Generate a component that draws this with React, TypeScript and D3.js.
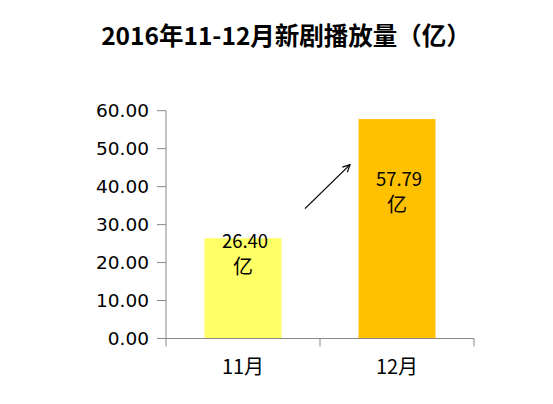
import React from "react";
import * as d3 from "d3";

const months = ["11月", "12月"];
const plays = [26.4, 57.79];
const barColors = ["#FFFF66", "#FFC000"];
const yTicks = [0, 10, 20, 30, 40, 50, 60];
const title = "2016年11-12月新剧播放量（亿）";
const unit = "亿";

const W = 553;
const H = 404;
const left = 166;
const right = 474;
const top = 110.7;
const bottom = 338.5;

export default function App() {
  const x = d3
    .scaleBand<string>()
    .domain(months)
    .range([left, right])
    .paddingInner(0.5)
    .paddingOuter(0.25);
  const y = d3.scaleLinear().domain([0, 60]).range([bottom, top]);
  const fmt = d3.format(".2f");
  const font = "'Noto Sans CJK SC', 'DejaVu Sans', sans-serif";

  // arrow between the two bars, from the first bar's top region toward the second
  const x0 = (x(months[0]) as number) + x.bandwidth() + 23.5;
  const x1 = (x(months[1]) as number) - 8.5;
  const ay0 = y(34.2);
  const ay1 = y(45.8);

  return (
    <svg
      width={W}
      height={H}
      style={{ position: "absolute", left: 0, top: 0, background: "#fff" }}
      fontFamily={font}
    >
      <defs>
        <marker
          id="head"
          viewBox="0 0 10 10"
          refX="9"
          refY="5"
          markerWidth="9"
          markerHeight="9"
          orient="auto"
          markerUnits="userSpaceOnUse"
        >
          <path d="M1,1 L9,5 L1,9" fill="none" stroke="#000" strokeWidth={1.3} />
        </marker>
      </defs>
      <text
        x={286}
        y={45}
        textAnchor="middle"
        fontSize={24.5}
        fontWeight="bold"
        fill="#000"
      >
        {title}
      </text>

      {/* bars */}
      {months.map((m, i) => (
        <rect
          key={m}
          x={x(m)}
          y={y(plays[i])}
          width={x.bandwidth()}
          height={bottom - y(plays[i])}
          fill={barColors[i]}
        />
      ))}

      {/* y axis */}
      <line x1={left} x2={left} y1={top} y2={bottom} stroke="#888" strokeWidth={1} />
      {yTicks.map((t) => (
        <g key={t}>
          <line x1={left - 9} x2={left} y1={y(t)} y2={y(t)} stroke="#888" strokeWidth={1} />
          <text
            x={149}
            y={y(t)}
            dy="0.36em"
            textAnchor="end"
            fontSize={18.5}
            fontFamily="'DejaVu Sans', sans-serif"
            fill="#000"
          >
            {fmt(t)}
          </text>
        </g>
      ))}

      {/* x axis */}
      <line x1={left} x2={right} y1={bottom} y2={bottom} stroke="#888" strokeWidth={1} />
      {[left, left + x.step(), right].map((p, i) => (
        <line key={i} x1={p} x2={p} y1={bottom} y2={bottom + 8} stroke="#888" strokeWidth={1} />
      ))}
      {months.map((m) => (
        <text
          key={m}
          x={(x(m) as number) + x.bandwidth() / 2}
          y={367}
          dy="0.36em"
          textAnchor="middle"
          fontSize={20}
          fill="#000"
        >
          {m}
        </text>
      ))}

      {/* value labels */}
      {months.map((m, i) => {
        const cx = (x(m) as number) + x.bandwidth() / 2 + 2;
        const ty = i === 0 ? y(plays[i]) + 3 : y(plays[i]) + 60;
        return (
          <g key={m} fill="#000" fontSize={18.5} textAnchor="middle">
            <text x={cx} y={ty} dy="0.36em">
              {fmt(plays[i])}
            </text>
            <text x={cx - 2} y={ty + 26} dy="0.36em" fontSize={20}>
              {unit}
            </text>
          </g>
        );
      })}

      <line
        x1={x0}
        y1={ay0}
        x2={x1}
        y2={ay1}
        stroke="#000"
        strokeWidth={1.3}
        markerEnd="url(#head)"
      />
    </svg>
  );
}
